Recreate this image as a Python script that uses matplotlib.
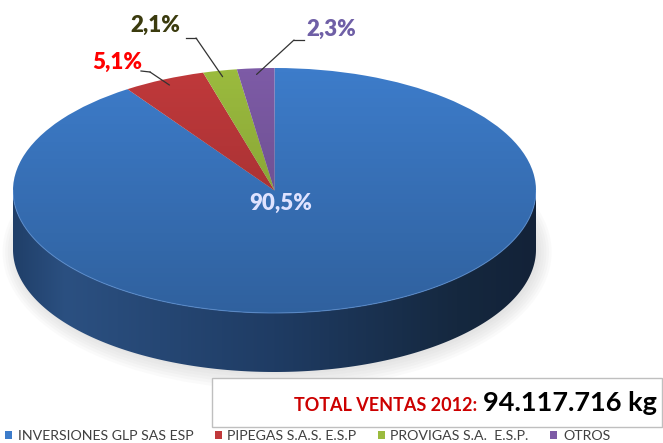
import numpy as np
import matplotlib.pyplot as plt
from matplotlib.patches import Polygon, Ellipse, Rectangle
from matplotlib.lines import Line2D
from matplotlib.colors import LinearSegmentedColormap

W, H = 663, 443

# ── data ────────────────────────────────────────────────────────────────────
empresas = ['INVERSIONES GLP SAS ESP', 'PIPEGAS S.A.S. E.S.P',
            'PROVIGAS S.A.  E.S.P.', 'OTROS']
participacion = [90.5, 5.1, 2.1, 2.3]
total_label = 'TOTAL VENTAS 2012:'
total_valor = '94.117.716 kg'

# ── style ───────────────────────────────────────────────────────────────────
colores = ['#3d7cca', '#c0393b', '#9bbb3e', '#7d5ba6']
color_etiqueta = ['#dfe3ff', '#ff0000', '#3b3b0e', '#6f5fa6']
# label centre / leader elbow (pixels, from top-left) for the small slices
pos_etiqueta = [(281, 203), (117, 62), (155, 25), (331, 29)]
codo = [None, ((141, 71), (150, 72)), ((186, 38), (196, 38)), ((304, 40), (294, 40))]

plt.rcParams['font.family'] = ['Lato', 'DejaVu Sans']


def fp(x, y):
    return x / W, 1 - y / H


fig = plt.figure(figsize=(W / 100, H / 100), dpi=100)

# pie ellipse geometry in pixels
cx, cy, rx, ry, grosor = 274.5, 190.5, 261.5, 122.5, 59
t = grosor / ry
ax = fig.add_axes([(cx - rx) / W, 1 - (cy + ry + grosor) / H,
                   2 * rx / W, (2 * ry + grosor) / H])

# soft shadow
for i in range(6):
    ax.add_patch(Ellipse((0.01, -t - 0.02), 2.0 + 0.02 * i, 2.0 + 0.05 * i,
                         color='#808080', alpha=0.035, lw=0, zorder=0, clip_on=False))

# side wall (front half, all in the big slice)
th = np.linspace(np.pi, 2 * np.pi, 200)
pared = np.vstack([np.c_[np.cos(th), np.sin(th)],
                   np.c_[np.cos(th[::-1]), np.sin(th[::-1]) - t]])
clip_pared = Polygon(pared, closed=True, fc='none', ec='none')
ax.add_patch(clip_pared)
cmap_lado = LinearSegmentedColormap.from_list(
    'lado', [(0, '#203f69'), (0.1, '#2b5081'), (0.5, '#1f3c64'),
             (0.85, '#15283f'), (1, '#132238')])
grad = np.linspace(0, 1, 256).reshape(1, -1)
im = ax.imshow(grad, cmap=cmap_lado, extent=(-1, 1, -1 - t, 0), aspect='auto',
               zorder=1, clip_on=True)
im.set_clip_path(clip_pared)

# top face
wedges, _ = ax.pie(participacion, colors=colores, startangle=90, counterclock=False,
                   radius=1, center=(0, 0), wedgeprops=dict(linewidth=0, zorder=2))
for w in wedges:
    w.set_zorder(2)

# shading on the top face
sombra = np.zeros((256, 1, 4))
sombra[:, 0, 3] = np.linspace(0.0, 0.22, 256)
clip_top = Ellipse((0, 0), 2, 2, fc='none', ec='none')
ax.add_patch(clip_top)
im2 = ax.imshow(sombra, extent=(-1, 1, -1, 1), aspect='auto', zorder=3)
im2.set_clip_path(clip_top)
ax.plot(np.cos(th), np.sin(th), color='#5b8fd2', lw=0.8, alpha=0.7, zorder=4)

ax.set_aspect('auto')
ax.set_xlim(-1, 1)
ax.set_ylim(-1 - t, 1)
ax.axis('off')

# percentage labels and leader lines
fin = 90.0
for i, v in enumerate(participacion):
    medio = np.radians(fin - 3.6 * v / 2)
    fin -= 3.6 * v
    texto = f'{v:.1f}'.replace('.', ',') + '%'
    x, y = fp(*pos_etiqueta[i])
    fig.text(x, y, texto, color=color_etiqueta[i], fontsize=16, fontweight='heavy',
             ha='center', va='center')
    if codo[i] is not None:
        (x0, y0), (x1, y1) = codo[i]
        fig.add_artist(Line2D([x0 / W, x1 / W], [1 - y0 / H, 1 - y1 / H],
                              color='#333333', lw=0.9, transform=fig.transFigure))
        ax.annotate('', xy=(0.95 * np.cos(medio), 0.95 * np.sin(medio)),
                    xycoords='data', xytext=fp(x1, y1), textcoords='figure fraction',
                    arrowprops=dict(arrowstyle='-', color='#333333', lw=0.9,
                                    shrinkA=0, shrinkB=0), zorder=6)

# total box
fig.add_artist(Rectangle(fp(212, 427), 450 / W, 49 / H, transform=fig.transFigure,
                         fc='white', ec='#bfbfbf', lw=1))
fig.text(*fp(477, 411), total_label, color='#cc0000', fontsize=13,
         fontweight='bold', ha='right', va='baseline')
fig.text(*fp(483, 411), total_valor, color='black', fontsize=19.5,
         fontweight='bold', ha='left', va='baseline')

# legend
fig.legend(wedges, empresas, loc='center left', bbox_to_anchor=fp(5, 436), ncol=4,
           frameon=False, fontsize=10.2, handlelength=0.5, handleheight=0.5,
           handletextpad=0.4, columnspacing=1.5, labelcolor='#404040',
           borderaxespad=0, borderpad=0)

fig.savefig('out.png', dpi=100)
